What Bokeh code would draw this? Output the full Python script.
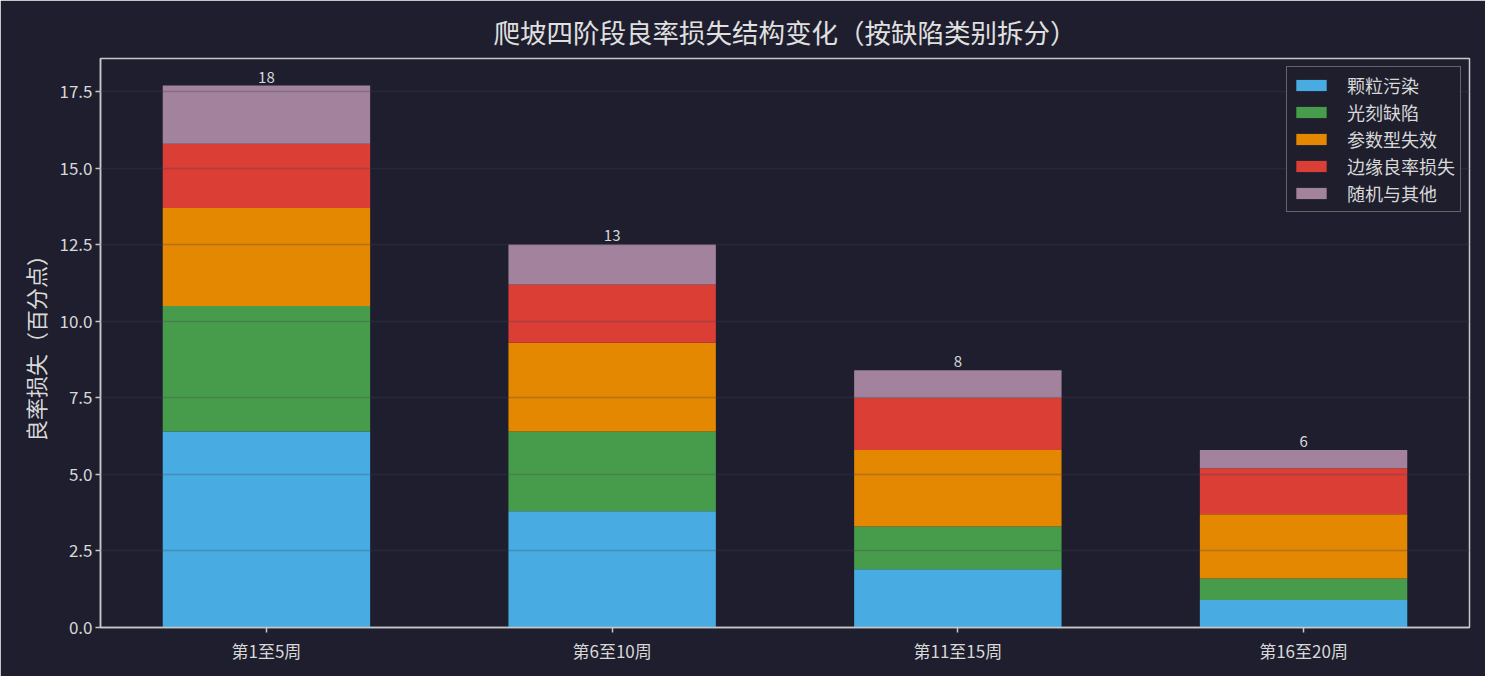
import math
from bokeh.plotting import figure
from bokeh.models import ColumnDataSource, Range1d, FixedTicker, NumeralTickFormatter, Legend
from bokeh.core.properties import value
from bokeh.embed import file_html
from bokeh.resources import INLINE

stages = ["第1至5周", "第6至10周", "第11至15周", "第16至20周"]
series_names = ["颗粒污染", "光刻缺陷", "参数型失效", "边缘良率损失", "随机与其他"]
particle = [6.4, 3.8, 1.9, 0.9]
litho = [4.1, 2.6, 1.4, 0.7]
parametric = [3.2, 2.9, 2.5, 2.1]
edge = [2.1, 1.9, 1.7, 1.5]
random_other = [1.9, 1.31, 0.9, 0.6]
y_ticks = [0.0, 2.5, 5.0, 7.5, 10.0, 12.5, 15.0, 17.5]
title_text = "爬坡四阶段良率损失结构变化（按缺陷类别拆分）"

colors = ["#48ACE3", "#479C4B", "#E38800", "#DA3E35", "#A2829D"]
FONT = "Noto Sans CJK SC"
BG = "#1E1E2E"
TXT = "#D8D8D8"
FRAME = "#C8C8C8"

xs = list(range(len(stages)))
keys = ["s0", "s1", "s2", "s3", "s4"]
data = dict(x=xs, s0=particle, s1=litho, s2=parametric, s3=edge, s4=random_other)
src = ColumnDataSource(data)

totals = [sum(v) for v in zip(particle, litho, parametric, edge, random_other)]
labels = [str(int(math.floor(t + 0.5))) for t in totals]
top = max(totals) * 1.05

p = figure(width=1485, height=676, output_backend="svg", toolbar_location=None,
           x_range=Range1d(-0.48, 3.48), y_range=Range1d(0, top),
           background_fill_color=BG, border_fill_color=BG,
           min_border_left=100, min_border_right=16, min_border_top=58, min_border_bottom=49)

renderers = p.vbar_stack(keys, x="x", width=0.6, source=src, color=colors, line_width=0)

p.text(x=xs, y=totals, text=labels, text_align="center", text_baseline="bottom",
       text_font=value(FONT), text_font_size="15px", text_color=TXT, y_offset=-3)

legend = Legend(items=[(n, [r]) for n, r in zip(series_names, renderers)], location="top_right")
legend.label_text_font = FONT
legend.label_text_font_size = "18px"
legend.label_text_color = TXT
legend.background_fill_color = BG
legend.background_fill_alpha = 0.9
legend.border_line_color = "#AAAAAA"
legend.border_line_width = 1.5
legend.glyph_width = 38
legend.glyph_height = 14
legend.label_standoff = 17
legend.label_height = 20
legend.spacing = 1
legend.padding = 5
legend.margin = 8
p.add_layout(legend)

p.title.text = title_text
p.title.align = "center"
p.title.text_font = FONT
p.title.text_font_size = "26.5px"
p.title.text_font_style = "normal"
p.title.text_color = "#E0E0E0"
p.title.offset = 0
p.title.standoff = 16

p.xgrid.visible = False
p.ygrid.ticker = FixedTicker(ticks=y_ticks)
p.ygrid.grid_line_color = "#42424F"
p.ygrid.grid_line_alpha = 0.3
p.ygrid.grid_line_width = 1.5
p.ygrid.level = "overlay"

p.outline_line_color = FRAME
p.outline_line_width = 1.5

p.xaxis.ticker = FixedTicker(ticks=xs)
p.xaxis.major_label_overrides = {i: s for i, s in enumerate(stages)}
p.yaxis.ticker = FixedTicker(ticks=y_ticks)
p.yaxis.formatter = NumeralTickFormatter(format="0.0")
p.yaxis.axis_label = "良率损失（百分点）"
p.yaxis.major_label_standoff = 3

for ax in (p.xaxis, p.yaxis):
    ax.axis_line_color = FRAME
    ax.axis_line_width = 1.5
    ax.major_tick_line_color = FRAME
    ax.major_tick_line_width = 1.5
    ax.major_tick_in = 0
    ax.major_tick_out = 5
    ax.minor_tick_line_color = None
    ax.major_label_text_font = FONT
    ax.major_label_text_font_size = "17px"
    ax.major_label_text_color = TXT
    ax.axis_label_text_font = FONT
    ax.axis_label_text_font_size = "22px"
    ax.axis_label_text_font_style = "normal"
    ax.axis_label_text_color = TXT

html = file_html(p, INLINE)
html = html.replace("<body>", '<body style="background-color:%s">' % BG, 1)
open("out.html", "w").write(html)
